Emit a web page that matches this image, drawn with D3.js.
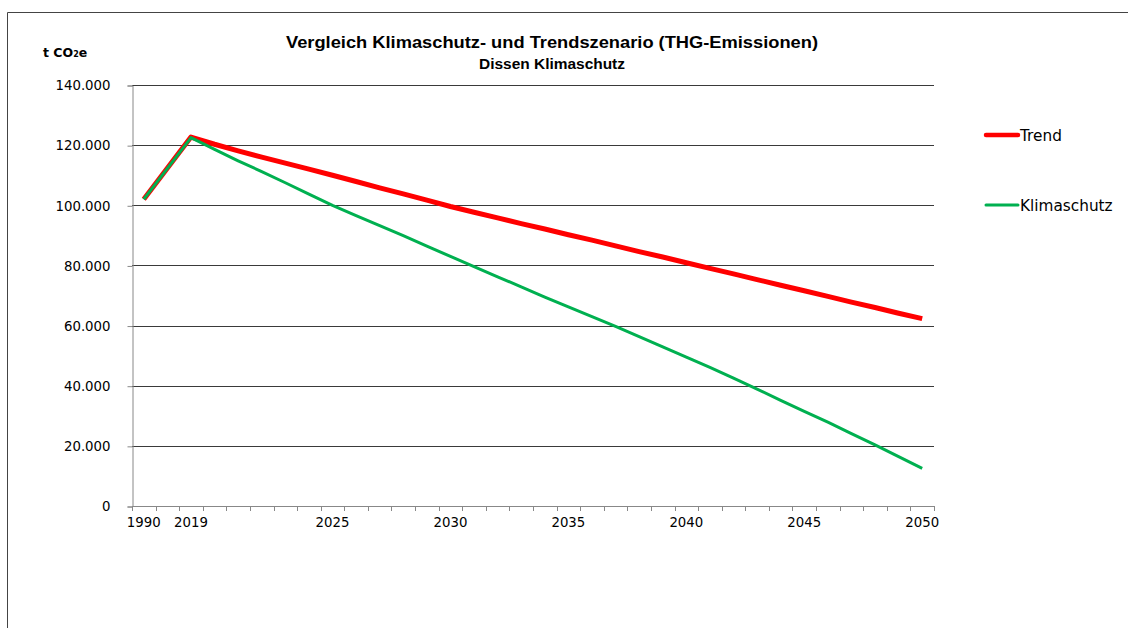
<!DOCTYPE html>
<html>
<head>
<meta charset="utf-8">
<script src="https://cdn.jsdelivr.net/npm/d3@7"></script>
<style>
  body { margin: 0; background: #fff; }
  svg { display: block; }
</style>
</head>
<body>
<div id="chart"></div>
<script>
// years with values; the category axis has one empty slot after 1990
var years = ["1990", "2019", "2020", "2021", "2022", "2023", "2024", "2025", "2026", "2027", "2028",
  "2029", "2030", "2031", "2032", "2033", "2034", "2035", "2036", "2037", "2038", "2039", "2040",
  "2041", "2042", "2043", "2044", "2045", "2046", "2047", "2048", "2049", "2050"];
var categories = ["1990", "gap", "2019", "2020", "2021", "2022", "2023", "2024", "2025", "2026", "2027", "2028",
  "2029", "2030", "2031", "2032", "2033", "2034", "2035", "2036", "2037", "2038", "2039", "2040",
  "2041", "2042", "2043", "2044", "2045", "2046", "2047", "2048", "2049", "2050"];
var xLabels = ["1990", "2019", "2025", "2030", "2035", "2040", "2045", "2050"];

var trend = [102000, 122700, 120300, 118100, 116000, 114000, 112000, 110000, 107900, 105800, 103800,
  101700, 99600, 97700, 95800, 93900, 92100, 90200, 88400, 86500, 84600, 82800, 80900,
  79000, 77200, 75300, 73400, 71600, 69700, 67800, 66000, 64100, 62300];
var klimaschutz = [102000, 122500, 118600, 114800, 111200, 107500, 103700, 100000, 96600, 93200, 89900,
  86400, 83000, 79600, 76200, 72900, 69500, 66200, 63000, 59700, 56300, 52900, 49500,
  46100, 42500, 38900, 35100, 31500, 27900, 24100, 20300, 16400, 12500];
var yTicks = [0, 20000, 40000, 60000, 80000, 100000, 120000, 140000];

var W = 1128, H = 628;
var mLeft = 132, mRight = 934, mTop = 85, mBottom = 506;

var svg = d3.select("#chart").append("svg")
    .attr("width", W)
    .attr("height", H);

// outer frame (only top and left edges visible)
svg.append("line").attr("x1", 7.5).attr("x2", W).attr("y1", 12.5).attr("y2", 12.5)
    .attr("stroke", "#444").attr("stroke-width", 1);
svg.append("line").attr("x1", 7.5).attr("x2", 7.5).attr("y1", 12.5).attr("y2", H)
    .attr("stroke", "#444").attr("stroke-width", 1);

var x = d3.scaleBand().domain(categories).range([mLeft, mRight]).padding(0);
var y = d3.scaleLinear().domain([0, 140000]).range([mBottom, mTop]);
var cx = function(c){ return x(c) + x.bandwidth() / 2; };

var fmt = function(v){ return d3.format(",")(v).replace(/,/g, "."); };

// gridlines
svg.append("g").selectAll("line")
    .data(yTicks.filter(function(d){ return d > 0; }))
    .enter().append("line")
    .attr("x1", mLeft).attr("x2", mRight)
    .attr("y1", function(d){ return Math.round(y(d)) + 0.5; })
    .attr("y2", function(d){ return Math.round(y(d)) + 0.5; })
    .attr("stroke", "#3a3a3a").attr("stroke-width", 1);

// y axis
var yAxis = svg.append("g")
    .attr("transform", "translate(" + (mLeft + 0.5) + ",0.5)")
    .call(d3.axisLeft(y).tickValues(yTicks).tickSize(5).tickPadding(17).tickFormat(fmt));
yAxis.select(".domain").attr("stroke", "#888");
yAxis.selectAll(".tick line").attr("stroke", "#888");
yAxis.selectAll("text")
    .attr("font-family", "DejaVu Sans, Verdana, sans-serif")
    .attr("font-size", "13.3px")
    .attr("fill", "#000");

// x axis: ticks between categories
var xg = svg.append("g");
xg.append("line").attr("x1", mLeft).attr("x2", mRight)
    .attr("y1", mBottom + 0.5).attr("y2", mBottom + 0.5)
    .attr("stroke", "#888");
var bounds = categories.map(function(c){ return x(c); }).concat([mRight]);
xg.selectAll("line.tk").data(bounds).enter().append("line")
    .attr("class", "tk")
    .attr("x1", function(d){ return Math.round(d) + 0.5; })
    .attr("x2", function(d){ return Math.round(d) + 0.5; })
    .attr("y1", mBottom).attr("y2", mBottom + 5)
    .attr("stroke", "#888");
xg.selectAll("text").data(xLabels).enter().append("text")
    .attr("x", function(d){ return cx(d); })
    .attr("y", mBottom + 21)
    .attr("text-anchor", "middle")
    .attr("font-family", "DejaVu Sans, Verdana, sans-serif")
    .attr("font-size", "13.3px")
    .attr("fill", "#000")
    .text(function(d){ return d; });

// series lines
var line = d3.line()
    .x(function(d, i){ return cx(years[i]); })
    .y(function(d){ return y(d); });

svg.append("path").datum(trend)
    .attr("d", line)
    .attr("fill", "none")
    .attr("stroke", "#ff0000")
    .attr("stroke-width", 5)
    .attr("stroke-linejoin", "round");

svg.append("path").datum(klimaschutz)
    .attr("d", line)
    .attr("fill", "none")
    .attr("stroke", "#00b050")
    .attr("stroke-width", 3)
    .attr("stroke-linejoin", "round");

// titles
svg.append("text")
    .attr("x", 552).attr("y", 48)
    .attr("text-anchor", "middle")
    .attr("font-family", "Liberation Sans, Arial, sans-serif")
    .attr("font-weight", "bold")
    .attr("font-size", "17px")
    .attr("textLength", 532)
    .attr("lengthAdjust", "spacingAndGlyphs")
    .text("Vergleich Klimaschutz- und Trendszenario (THG-Emissionen)");
svg.append("text")
    .attr("x", 552).attr("y", 69)
    .attr("text-anchor", "middle")
    .attr("font-family", "Liberation Sans, Arial, sans-serif")
    .attr("font-weight", "bold")
    .attr("font-size", "14px")
    .attr("textLength", 146)
    .attr("lengthAdjust", "spacingAndGlyphs")
    .text("Dissen Klimaschutz");

// unit label
var unit = svg.append("text")
    .attr("x", 43).attr("y", 57)
    .attr("font-family", "DejaVu Sans, Verdana, sans-serif")
    .attr("font-weight", "bold")
    .attr("font-size", "12.5px");
unit.append("tspan").text("t CO");
unit.append("tspan").attr("font-size", "8px").text("2");
unit.append("tspan").text("e");

// legend
var legendNames = ["Trend", "Klimaschutz"];
var legendColors = ["#ff0000", "#00b050"];
var legendWidths = [4.5, 3];
var lg = svg.append("g").selectAll("g").data(legendNames).enter().append("g")
    .attr("transform", function(d, i){ return "translate(986," + (135 + i * 70) + ")"; });
lg.append("line").attr("x1", 0).attr("x2", 32).attr("y1", 0).attr("y2", 0)
    .attr("stroke", function(d, i){ return legendColors[i]; })
    .attr("stroke-width", function(d, i){ return legendWidths[i]; })
    .attr("stroke-linecap", "round");
lg.append("text").attr("x", 34).attr("y", 5.5)
    .attr("font-family", "DejaVu Sans, Verdana, sans-serif")
    .attr("font-size", "15.3px")
    .text(function(d){ return d; });
</script>
</body>
</html>
